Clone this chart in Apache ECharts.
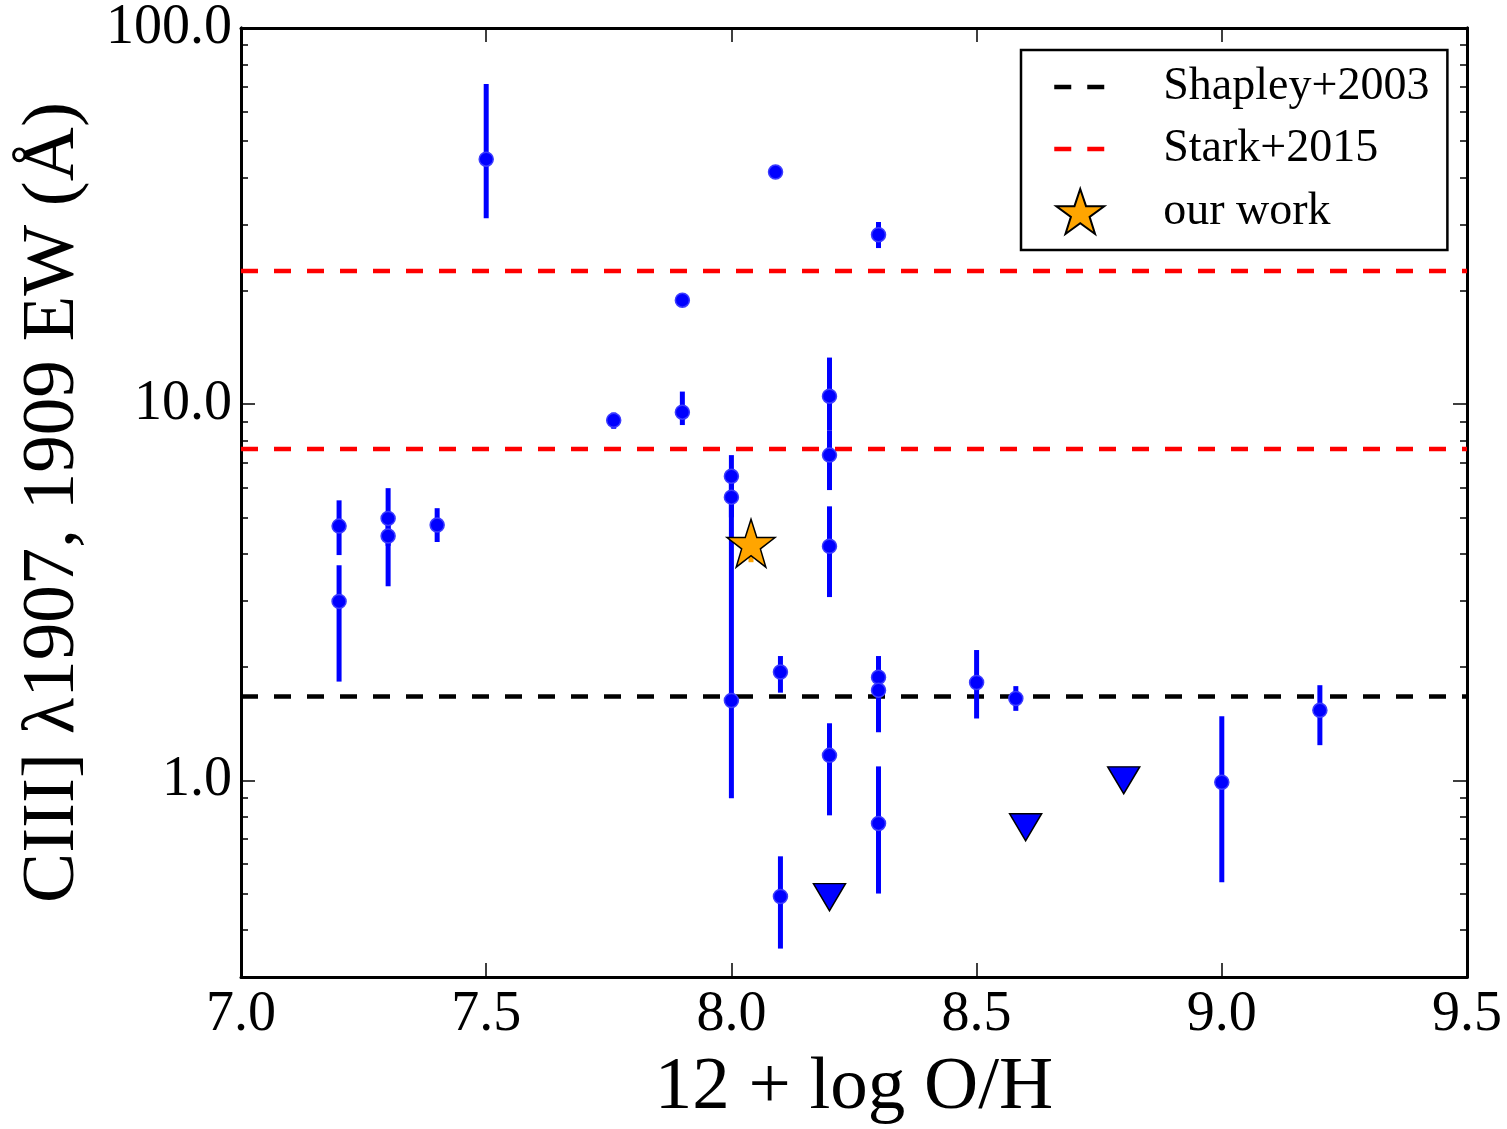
<!DOCTYPE html>
<html>
<head>
<meta charset="utf-8">
<script src="https://cdn.jsdelivr.net/npm/echarts@6/dist/echarts.min.js"></script>
<style>html,body{margin:0;padding:0;background:#fff;}#c{width:1507px;height:1129px;}</style>
</head>
<body>
<div id="c"></div>
<script>
// ---- data ----
const xVals = [7.2, 7.2, 7.3, 7.3, 7.4, 7.5, 7.76, 7.9, 7.9, 8.0, 8.0, 8.0, 8.09, 8.1, 8.1, 8.2, 8.2, 8.2, 8.2, 8.3, 8.3, 8.3, 8.3, 8.5, 8.58, 9.0, 9.2];
const yVals = [4.74, 2.99, 4.97, 4.46, 4.77, 44.8, 9.06, 18.9, 9.52, 6.43, 5.66, 1.63, 41.4, 1.94, 0.491, 10.5, 7.32, 4.19, 1.165, 28.2, 1.88, 1.735, 0.768, 1.82, 1.65, 0.988, 1.535];
const yLow  = [3.97, 1.83, 4.2, 3.28, 4.30, 31.2, 8.6, 18.9, 8.8, 5.9, 5.0, 0.896, 41.4, 1.71, 0.357, 8.5, 5.91, 3.07, 0.807, 26.0, 1.6, 1.342, 0.500, 1.46, 1.53, 0.536, 1.24];
const yHigh = [5.55, 3.73, 5.98, 4.8, 5.29, 71, 9.5, 18.9, 10.8, 7.32, 6.43, 5.4, 41.4, 2.14, 0.628, 13.3, 8.5, 5.35, 1.418, 30.5, 2.14, 1.9, 1.089, 2.22, 1.78, 1.48, 1.79];
const limX = [8.2, 8.6, 8.8];
const limY = [0.489, 0.75, 1.0];
const starX = [8.04];
const starY = [4.27];
const starLow = [3.8];
const starHigh = [4.5];
const shapleyY = 1.67;
const starkY = [7.6, 22.6];
const xTicks = [7.0, 7.5, 8.0, 8.5, 9.0, 9.5];
const yMajor = [1, 10, 100];
const yMinor = [0.3, 0.4, 0.5, 0.6, 0.7, 0.8, 0.9, 2, 3, 4, 5, 6, 7, 8, 9, 20, 30, 40, 50, 60, 70, 80, 90];
const xMin = 7.0, xMax = 9.5, yMin = 0.3, yMax = 100;

const FONT = 'Liberation Serif';
const starPath = 'path://M50,0 L61.8,35.1 L98.9,35.1 L69.1,56.9 L80.2,91.9 L50,70 L19.8,91.9 L30.9,56.9 L1.1,35.1 L38.2,35.1 Z';
const DASH = [17, 16];

function xAx(pos, showLabel) {
  return {
    type: 'value', position: pos, min: xMin, max: xMax, interval: 0.5,
    axisLine: {show: true, onZero: false, lineStyle: {color: '#000', width: 3}},
    axisTick: {show: true, inside: true, length: 14, lineStyle: {color: '#000', width: 1.5}, customValues: xTicks},
    axisLabel: {show: showLabel, customValues: xTicks, margin: 10, fontFamily: FONT, fontSize: 56, color: '#000',
      formatter: v => v.toFixed(1)},
    splitLine: {show: false},
    name: showLabel ? '12 + log O/H' : '', nameLocation: 'middle', nameGap: 74,
    nameTextStyle: {fontFamily: FONT, fontSize: 75, color: '#000'}
  };
}
function yAx(pos, major, showLabel) {
  return {
    type: 'log', logBase: 10, position: pos, offset: 0, min: yMin, max: yMax,
    axisLine: {show: true, onZero: false, lineStyle: {color: '#000', width: 3}},
    axisTick: {show: true, inside: true, length: major ? 14 : 7, lineStyle: {color: '#000', width: 1.5},
      customValues: major ? yMajor : yMinor},
    axisLabel: {show: showLabel, customValues: yMajor, margin: 9, fontFamily: FONT, fontSize: 56, color: '#000',
      formatter: v => Number(v).toFixed(1)},
    splitLine: {show: false},
    name: showLabel ? 'CIII] \u03bb1907, 1909 EW (\u00c5)' : '', nameLocation: 'middle', nameGap: 150,
    nameTextStyle: {fontFamily: FONT, fontSize: 75, color: '#000'}
  };
}

const hline = (name, y, color) => ({
  name: name, type: 'line', xAxisIndex: 0, yAxisIndex: 0, showSymbol: false, symbol: 'none',
  data: [[xMin, y], [xMax, y]],
  lineStyle: {color: color, width: 4.5, type: DASH}, itemStyle: {color: color},
  silent: true, z: 2
});

const errData = xVals.map((x, i) => [x, yLow[i], yHigh[i]]);
const ptData = xVals.map((x, i) => [x, yVals[i]]);
const noSym = {color: 'transparent', borderColor: 'transparent', borderWidth: 0, opacity: 0};

const option = {
  backgroundColor: '#fff',
  animation: false,
  grid: {left: 241, right: 40, top: 28, bottom: 152, containLabel: false, outerBoundsMode: 'none'},
  xAxis: [xAx('bottom', true), xAx('top', false)],
  yAxis: [yAx('left', true, true), yAx('left', false, false), yAx('right', true, false), yAx('right', false, false)],
  legend: {
    orient: 'vertical', left: 1021, top: 50,
    padding: [14, 18, 15, 31], itemGap: 16, itemWidth: 52, itemHeight: 45,
    borderColor: '#000', borderWidth: 2.5, borderRadius: 0, backgroundColor: '#fff',
    textStyle: {fontFamily: FONT, fontSize: 46, color: '#000', padding: [0, 0, 0, 52]},
    data: [
      {name: 'Shapley+2003', itemStyle: noSym, lineStyle: {color: '#000', width: 4.5, type: DASH}},
      {name: 'Stark+2015', itemStyle: noSym, lineStyle: {color: '#ff0000', width: 4.5, type: DASH}},
      {name: 'our work'}
    ]
  },
  series: [
    hline('Shapley+2003', shapleyY, '#000'),
    hline('Stark+2015', starkY[0], '#ff0000'),
    hline('Stark+2015', starkY[1], '#ff0000'),
    {
      type: 'custom', name: 'errbars', xAxisIndex: 0, yAxisIndex: 0, z: 3,
      data: errData, encode: {x: 0, y: [1, 2]},
      renderItem: (params, api) => {
        const x = api.value(0), lo = api.value(1), hi = api.value(2);
        if (lo === hi) return null;
        const p1 = api.coord([x, hi]), p2 = api.coord([x, lo]);
        return {type: 'line', shape: {x1: p1[0], y1: p1[1], x2: p2[0], y2: p2[1]},
          style: {stroke: '#0000ff', lineWidth: 5}};
      }
    },
    {
      type: 'scatter', name: 'points', xAxisIndex: 0, yAxisIndex: 0, z: 4,
      data: ptData, symbol: 'circle', symbolSize: 14,
      itemStyle: {color: '#0000ff', borderColor: '#3c3cff', borderWidth: 1.5, opacity: 1}
    },
    {
      type: 'scatter', name: 'limits', xAxisIndex: 0, yAxisIndex: 0, z: 4,
      data: limX.map((x, i) => [x, limY[i]]), symbol: 'triangle', symbolRotate: 180, symbolSize: [32, 27],
      itemStyle: {color: '#0000ff', borderColor: '#000', borderWidth: 1.5, opacity: 1}
    },
    {
      type: 'custom', name: 'starerr', xAxisIndex: 0, yAxisIndex: 0, z: 5,
      data: starX.map((x, i) => [x, starLow[i], starHigh[i]]), encode: {x: 0, y: [1, 2]},
      renderItem: (params, api) => {
        const x = api.value(0);
        const p1 = api.coord([x, api.value(2)]), p2 = api.coord([x, api.value(1)]);
        return {type: 'line', shape: {x1: p1[0], y1: p1[1], x2: p2[0], y2: p2[1]},
          style: {stroke: '#ffa500', lineWidth: 5}};
      }
    },
    {
      type: 'scatter', name: 'our work', xAxisIndex: 0, yAxisIndex: 0, z: 6,
      data: starX.map((x, i) => [x, starY[i]]), symbol: starPath, symbolSize: 48,
      itemStyle: {color: '#ffa500', borderColor: '#000', borderWidth: 1.5, opacity: 1}
    }
  ]
};
const chart = echarts.init(document.getElementById('c'), null, {renderer: 'canvas'});
chart.setOption(option);
</script>
</body>
</html>
